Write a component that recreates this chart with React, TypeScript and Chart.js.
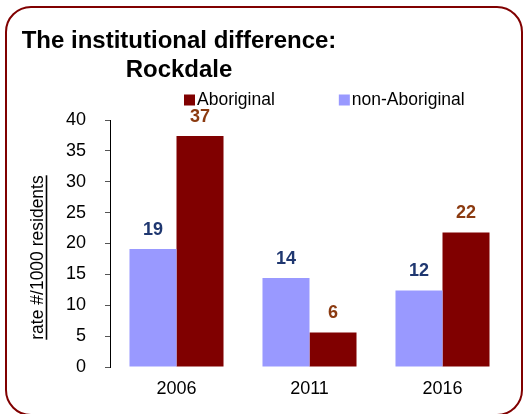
import React, { useEffect, useRef } from "react";
import { Chart, registerables } from "chart.js";

Chart.register(...registerables);

const categories = ["2006", "2011", "2016"];
const nonAboriginal = [19.1, 14.4, 12.4];
const aboriginal = [37.4, 5.6, 21.8];
const titleLines = ["The institutional difference:", "Rockdale"];
const yAxisTitle = "rate #/1000 residents";
const yTicks = { min: 0, max: 40, step: 5 };

const FONT = "'Liberation Sans', Arial, Helvetica, sans-serif";

const titlePlugin = {
  id: "customTitle",
  afterDraw(chart: any) {
    const ctx = chart.ctx;
    ctx.save();
    ctx.fillStyle = "#000";
    ctx.font = `bold 24px ${FONT}`;
    ctx.textAlign = "center";
    ctx.textBaseline = "alphabetic";
    ctx.fillText(titleLines[0], 179, 48);
    ctx.fillText(titleLines[1], 179, 76.5);
    ctx.restore();
  },
};

const legendPlugin = {
  id: "customLegend",
  afterDraw(chart: any) {
    const ctx = chart.ctx;
    ctx.save();
    ctx.font = `17.5px ${FONT}`;
    ctx.textBaseline = "middle";
    ctx.textAlign = "left";
    const order = [1, 0];
    let x = 184;
    const y = 100;
    order.forEach((di) => {
      const ds = chart.data.datasets[di];
      ctx.fillStyle = ds.backgroundColor;
      ctx.fillRect(x, y - 5.5, 11, 11);
      ctx.fillStyle = "#000";
      ctx.fillText(ds.label, x + 13, y);
      const w = ctx.measureText(ds.label).width;
      x = x + 13 + w + 64;
    });
    ctx.restore();
  },
};

const yTitlePlugin = {
  id: "yTitle",
  afterDraw(chart: any) {
    const ctx = chart.ctx;
    const area = chart.chartArea;
    const cy = (area.top + area.bottom) / 2 + 14;
    ctx.save();
    ctx.translate(43, cy);
    ctx.rotate(-Math.PI / 2);
    ctx.font = `17.5px ${FONT}`;
    ctx.fillStyle = "#000";
    ctx.textAlign = "center";
    ctx.textBaseline = "alphabetic";
    ctx.fillText(yAxisTitle, 0, 0);
    const w = ctx.measureText(yAxisTitle).width;
    ctx.strokeStyle = "#000";
    ctx.lineWidth = 1.6;
    ctx.beginPath();
    ctx.moveTo(-w / 2, 3.5);
    ctx.lineTo(w / 2, 3.5);
    ctx.stroke();
    ctx.restore();
  },
};

const labelColors = ["#1F3770", "#8B3A10"];

const dataLabelPlugin = {
  id: "dataLabels",
  afterDatasetsDraw(chart: any) {
    const ctx = chart.ctx;
    ctx.save();
    ctx.font = `bold 18px ${FONT}`;
    ctx.textAlign = "center";
    ctx.textBaseline = "alphabetic";
    chart.data.datasets.forEach((ds: any, di: number) => {
      const meta = chart.getDatasetMeta(di);
      ctx.fillStyle = labelColors[di];
      meta.data.forEach((bar: any, i: number) => {
        ctx.fillText(String(Math.round(ds.data[i])), bar.x, bar.y - 14);
      });
    });
    ctx.restore();
  },
};

export default function App() {
  const ref = useRef<HTMLCanvasElement>(null);

  useEffect(() => {
    if (!ref.current) return;
    const chart = new Chart(ref.current, {
      type: "bar",
      data: {
        labels: categories,
        datasets: [
          {
            label: "non-Aboriginal",
            data: nonAboriginal,
            backgroundColor: "#9999FF",
            barPercentage: 1,
            categoryPercentage: 0.707,
          },
          {
            label: "Aboriginal",
            data: aboriginal,
            backgroundColor: "#800000",
            barPercentage: 1,
            categoryPercentage: 0.707,
          },
        ],
      },
      options: {
        responsive: false,
        animation: false,
        devicePixelRatio: 1,
        layout: { padding: { top: 120, right: 19, left: 0, bottom: 0 } },
        plugins: {
          legend: { display: false },
          title: { display: false },
          tooltip: { enabled: false },
        },
        scales: {
          x: {
            grid: { display: false, drawTicks: false },
            border: { display: false },
            ticks: {
              color: "#000",
              font: { family: FONT, size: 18 },
              padding: 11,
            },
            afterFit(scale: any) {
              scale.height = 47;
            },
          },
          y: {
            min: yTicks.min,
            max: yTicks.max,
            grid: {
              display: true,
              drawOnChartArea: false,
              drawTicks: true,
              tickLength: 5,
              color: "#555",
            },
            border: { display: true, color: "#000", width: 1 },
            ticks: {
              stepSize: yTicks.step,
              color: "#000",
              font: { family: FONT, size: 18 },
              padding: 19,
            },
            afterFit(scale: any) {
              scale.width = 110;
            },
          },
        },
      },
      plugins: [titlePlugin, legendPlugin, yTitlePlugin, dataLabelPlugin],
    } as any);
    return () => chart.destroy();
  }, []);

  return (
    <div style={{ position: "absolute", left: 0, top: 0, width: 528, height: 414, background: "#fff", overflow: "hidden" }}>
      <canvas ref={ref} width={528} height={414} style={{ position: "absolute", left: 0, top: 0 }} />
      <div
        style={{
          position: "absolute",
          left: 5,
          top: 6,
          width: 518,
          height: 410,
          boxSizing: "border-box",
          border: "2.5px solid #800000",
          borderRadius: 26,
          pointerEvents: "none",
        }}
      />
    </div>
  );
}
